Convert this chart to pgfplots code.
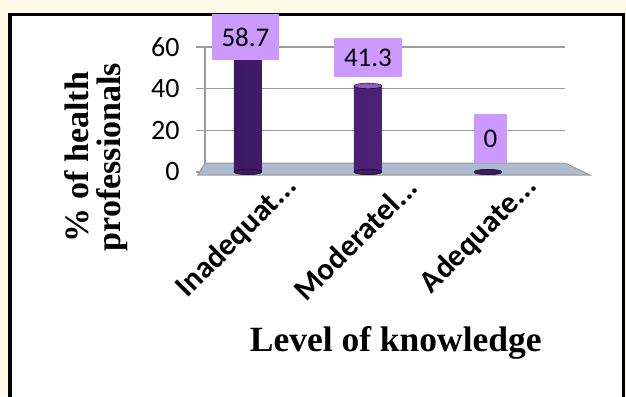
\documentclass[border=0pt]{standalone}
\usepackage{fontspec}
\setmainfont{Liberation Serif}
\newfontfamily\calibri{Carlito}
\usepackage{pgfplots}
\pgfplotsset{compat=1.18}
\usepackage{pgfplotstable}
\newcommand{\dd}{...}
\pgfdeclarelayer{bgl}
\pgfsetlayers{bgl,main}

\definecolor{cream}{RGB}{255,250,232}
\definecolor{lav}{RGB}{204,153,255}
\definecolor{gridc}{RGB}{155,155,155}
\definecolor{floorc}{RGB}{172,188,206}
\definecolor{pdark}{RGB}{62,25,100}
\definecolor{pmid}{RGB}{114,56,166}
\definecolor{pright}{RGB}{88,40,135}
\definecolor{ptop}{RGB}{142,92,190}

\pgfplotstableread{
x y
0 58.7
1 41.3
2 0
}\datatab

\pgfplotsset{/pgf/number format/assume math mode=true,
  lbl/.style n args={3}{draw=none, mark=none, point meta=y,
  nodes near coords={\pgfmathprintnumber[fixed,precision=1]{\pgfplotspointmeta}},
  every node near coord/.append style={anchor=center, fill=lav, text=black, xshift=#1, yshift=#2, font=\calibri\fontsize{27}{27}\selectfont, inner xsep=10pt, inner ysep=#3}}}

\begin{document}
\begin{tikzpicture}
\begin{axis}[
  scale only axis, width=360pt, height=125pt,
  xmin=-0.358, xmax=2.642, ymin=0, ymax=60,
  clip=false,
  axis x line*=bottom, axis y line*=left,
  x axis line style={draw=none},
  y axis line style={gridc, line width=1.5pt},
  ytick={0,20,40,60},
  ymajorgrids, grid style={gridc, line width=1.5pt},
  ytick style={gridc, line width=1.5pt},
  tick align=outside, major tick length=9pt,
  yticklabel style={font=\calibri\fontsize{28}{28}\selectfont, xshift=-13pt},
  xtick={0,1,2},
  xticklabels={Inadequat\dd,Moderatel\dd,Adequate\dd},
  xtick style={draw=none},
  xticklabel style={font=\calibri\bfseries\fontsize{31}{31}\selectfont, rotate=45, anchor=east, xshift=34pt, yshift=-32pt},
  xlabel={Level of knowledge},
  ylabel={\% of health\\professionals},
  every axis x label/.style={at={(axis description cs:0.53,-1.368)}, anchor=center, font=\bfseries\fontsize{35.5}{35.5}\selectfont},
  every axis y label/.style={at={(axis description cs:-0.302,0.12)}, rotate=90, anchor=center, align=center, font=\bfseries\fontsize{34}{32.5}\selectfont},
]
\coordinate (O) at (axis cs:-0.358,0);
\fill[floorc, draw=gridc, line width=1pt] (axis cs:-0.417,-1.44) -- (axis cs:2.85,-1.44) -- (axis cs:2.642,4.32) -- (axis cs:-0.358,4.32) -- cycle;
\addplot[ybar, bar width=28pt, draw=none, shading=axis, left color=pdark, middle color=pmid, right color=pright] table[x=x,y=y]{\datatab};
\addplot[only marks, mark=*, mark size=14pt, mark options={yscale=0.2, fill=pdark, draw=none}] coordinates {(0,0) (1,0) (2,0)};
\addplot[only marks, mark=*, mark size=14pt, mark options={yscale=0.2, fill=ptop, draw=none}] coordinates {(0,58.7) (1,41.3)};
\addplot[lbl={-2.5pt}{12.7pt}{14pt}] coordinates {(0,58.7)};
\addplot[lbl={0pt}{28.5pt}{10.5pt}] coordinates {(1,41.3)};
\addplot[lbl={2.5pt}{33.5pt}{15.5pt}] coordinates {(2,0)};
\end{axis}
\begin{pgfonlayer}{bgl}
\begin{scope}[shift={(O)}, x=1pt, y=1pt]
\fill[cream] (-205,-224) rectangle (421,172);
\fill[white] (-195,-229) rectangle (418,157);
\draw[line width=3pt] (-195,-229) |- (418,157) -- (418,-229);
\draw[line width=4pt] (-195,-229) -- (-195,158.5);
\end{scope}
\end{pgfonlayer}
\pgfresetboundingbox
\path[use as bounding box, shift={(O)}, x=1pt, y=1pt] (-205,-224) rectangle (421,172);
\end{tikzpicture}
\end{document}
